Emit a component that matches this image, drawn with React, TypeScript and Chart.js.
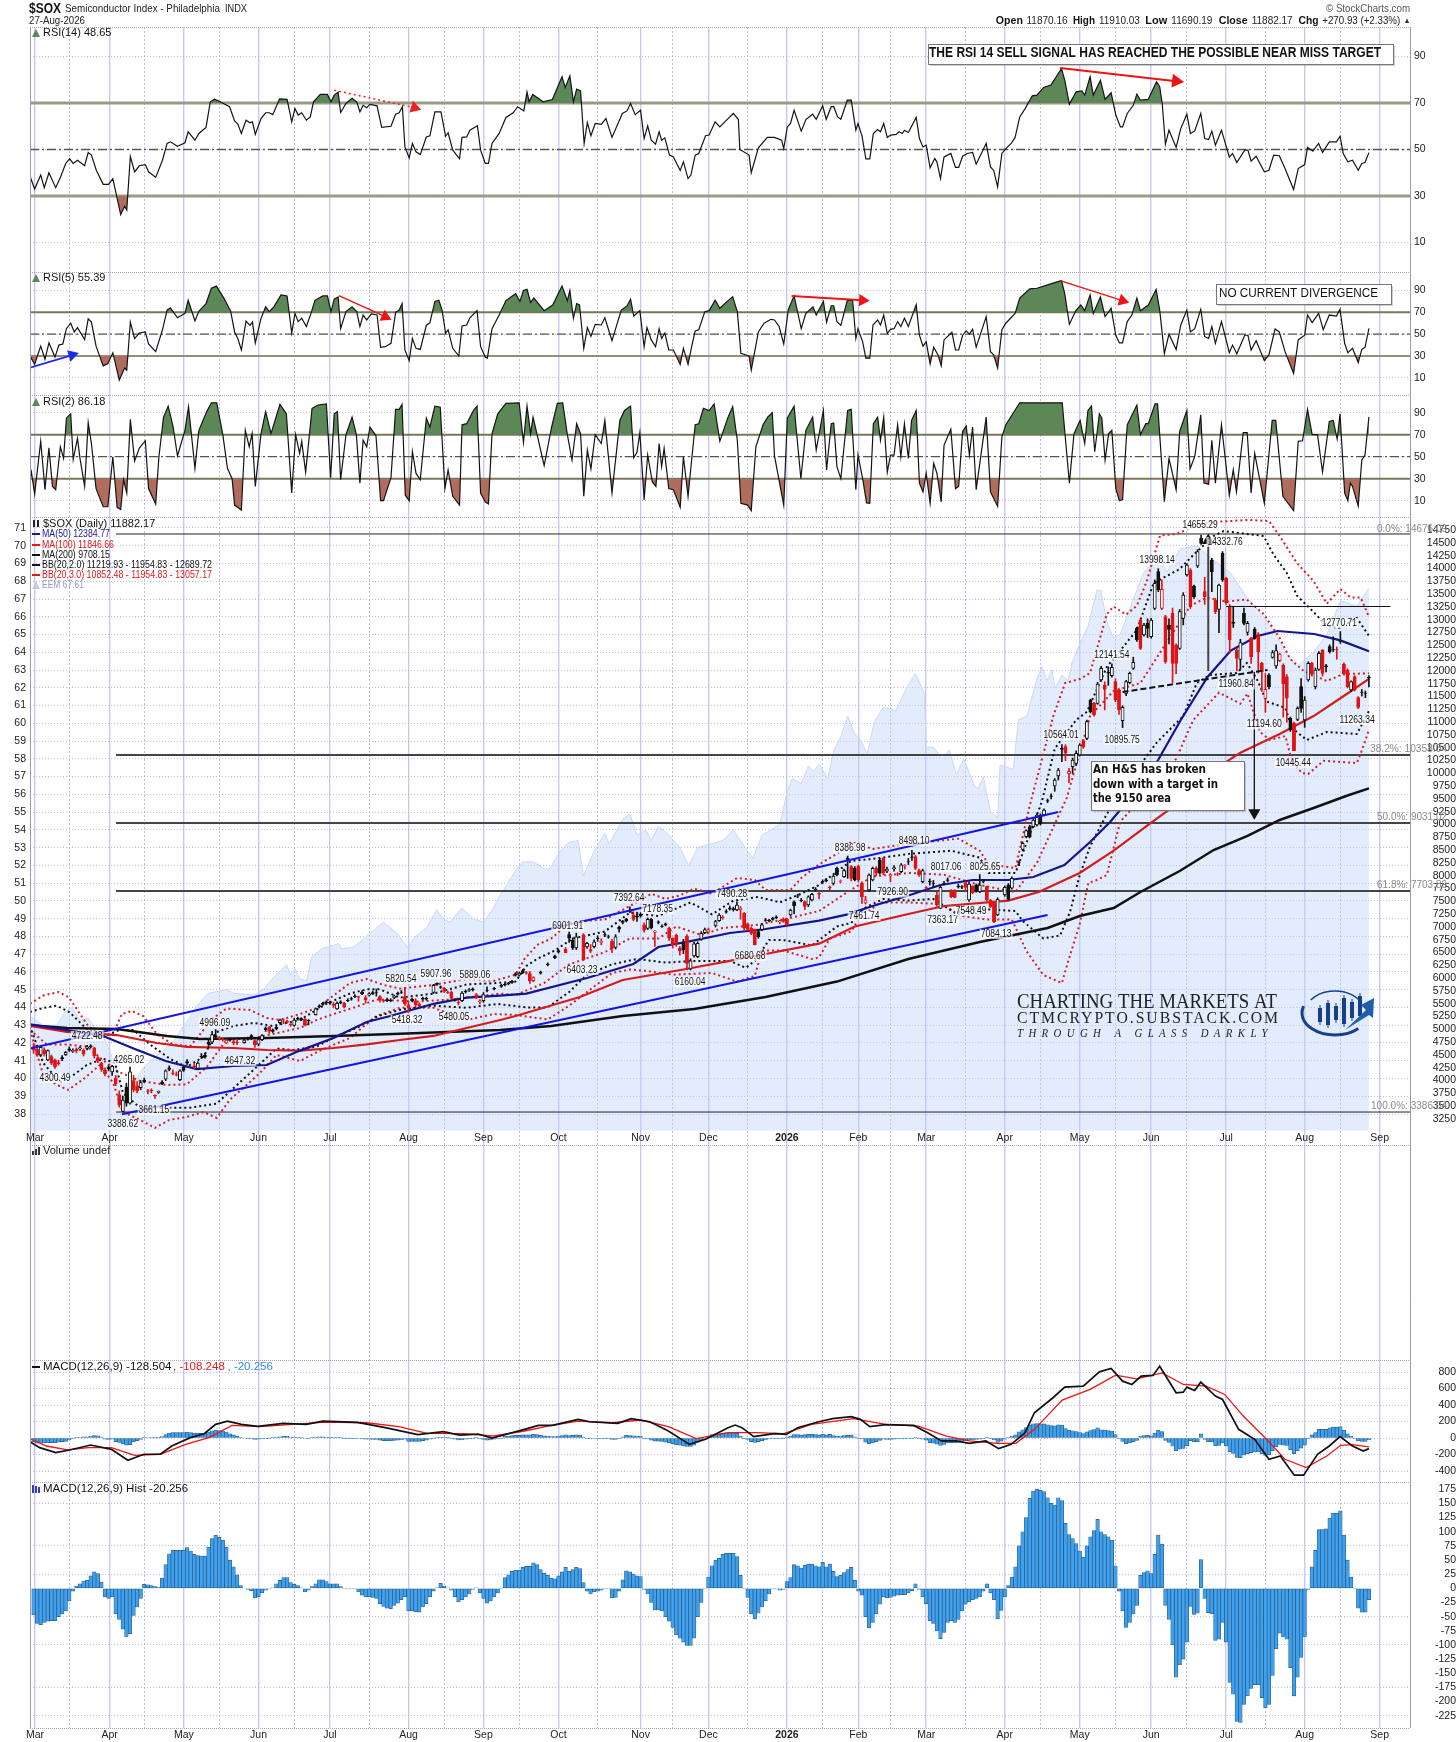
import { useEffect, useRef } from 'react';
import { Chart, registerables } from 'chart.js';
Chart.register(...registerables);

const monthPos = [1.4, 22.3, 43.1, 64, 84, 106, 127, 148, 171, 190, 212, 232, 251, 273, 294, 314, 335, 357, 378];
const monthLabels = ['Mar', 'Apr', 'May', 'Jun', 'Jul', 'Aug', 'Sep', 'Oct', 'Nov', 'Dec', '2026', 'Feb', 'Mar', 'Apr', 'May', 'Jun', 'Jul', 'Aug', 'Sep'];
const midMonthPos = [11, 32, 53, 74, 95, 116, 137, 159, 180, 201, 222, 241, 262, 283, 304, 324, 346, 367];

const rsiTicks = [90, 70, 50, 30, 10];
const priceTicks = [14750, 14500, 14250, 14000, 13750, 13500, 13250, 13000, 12750, 12500, 12250, 12000, 11750, 11500, 11250, 11000, 10750, 10500, 10250, 10000, 9750, 9500, 9250, 9000, 8750, 8500, 8250, 8000, 7750, 7500, 7250, 7000, 6750, 6500, 6250, 6000, 5750, 5500, 5250, 5000, 4750, 4500, 4250, 4000, 3750, 3500, 3250];
const eemTicks = [71, 70, 69, 68, 67, 66, 65, 64, 63, 62, 61, 60, 59, 58, 57, 56, 55, 54, 53, 52, 51, 50, 49, 48, 47, 46, 45, 44, 43, 42, 41, 40, 39, 38];
const macdTicks = [800, 600, 400, 200, 0, -200, -400];
const histTicks = [175, 150, 125, 100, 75, 50, 25, 0, -25, -50, -75, -100, -125, -150, -175, -200, -225];
const histGridValues = [150, 75, 25, -50, -100, -175, -225];

const rsi14 = [[0,38.5],[1.3,33],[3,39],[4,33.6],[5.3,40],[7.2,33.6],[8.5,38],[10,44],[11.1,46],[12.1,44],[13.3,45.4],[15.3,43],[16.3,48.7],[17.2,47.6],[18.6,41],[20.5,35],[22,35],[23.2,37.5],[25.4,22],[26.5,25.6],[27.1,24],[28.1,47],[29.3,40.4],[30.6,43],[32.3,43.5],[33.2,40.4],[35.2,38],[37.1,45.4],[38.4,52.6],[39.3,53.3],[41.3,51.4],[43.4,52.9],[44.3,57.6],[46.2,54],[47.3,56.9],[49.3,59.5],[50.5,70.5],[51.7,71.6],[52.7,71],[55.9,68.4],[57.3,62.3],[58.2,60.9],[59.2,56.9],[60.5,62.6],[61.6,61.5],[62.3,61.9],[63.1,56.5],[64.7,63.3],[66,65.8],[67,65.8],[68,65],[69.9,71.8],[72,71.6],[73.3,61.9],[74.2,67.6],[75.1,64.8],[76.1,65.8],[77.4,62.6],[78.5,64],[79.4,70.5],[81.3,73.7],[83.3,73.7],[84.3,70.5],[85.2,73.4],[86.3,74.7],[87,65.9],[88.5,69.8],[90.2,72],[91.5,70.5],[92.4,66.2],[93.3,69],[94.3,68],[95.2,69.4],[97.2,68.8],[98.5,59.5],[101.1,60],[102.4,65.2],[103.4,65.8],[104.3,68.4],[105,51.1],[106.2,46.4],[107.1,52.6],[108.1,49],[109.3,47.8],[111,55.4],[112,55.9],[113.4,66.2],[115.1,66.2],[116.4,55.7],[117.1,57.2],[118.4,49.7],[120.3,46],[121,55.2],[122.3,55.4],[123.2,58.3],[125.3,60.2],[126.2,49.7],[127.5,44],[128.4,44],[129.4,52.6],[131.4,56.9],[133.3,63.8],[135.3,65.8],[136.6,68.4],[138.3,66.6],[139.2,74.8],[139.8,70.5],[140.8,73.7],[143.7,70.5],[146.3,71.5],[149,81.3],[149.9,76.7],[151.2,81.7],[152.2,70.5],[153.1,76],[154.2,75.2],[155.2,52.6],[156.1,61.6],[157.1,55.9],[158.3,61.2],[160,60.8],[161.3,63.3],[163,55.2],[165.9,65.5],[167.2,66.6],[168.2,69.8],[169.5,65],[171,66.9],[172,54.7],[173,60.2],[174,54],[175.2,52.3],[176.2,57.6],[176.9,54],[177.8,55],[179.1,47.6],[180.2,46.8],[182.1,41],[183,44.7],[184.3,37.5],[185.1,39],[186.3,47.6],[187.3,48.3],[189.2,55.9],[190.2,56.2],[191.9,61.9],[193.2,59.7],[195.5,63.3],[197,65.5],[198.4,62.9],[198.8,50],[201.4,47.6],[202,40],[204,50.7],[206.5,55.2],[208.5,55.2],[210.5,54],[211.1,50.4],[212.1,59.7],[213,61.2],[214,66.9],[216,57.9],[217.3,62.9],[219.2,65.2],[220.2,63],[222,68.8],[223,63],[224.4,68.4],[225.1,68.4],[226.2,64],[227.1,63],[228.9,71.2],[230,71.2],[231.3,58.3],[231.9,61.2],[233,56],[234.1,46],[235.2,46],[236.2,56.9],[237.4,58.6],[238.2,57.6],[239.1,61.2],[240.1,55.2],[241,56.2],[242.6,56.5],[243.4,57.6],[244.3,56.9],[244.9,58.3],[246,57.3],[248.2,63.8],[249.1,54.7],[250.1,51.1],[251,51.9],[252.1,42.1],[253.4,46.1],[254,44.7],[255,37.5],[256,46.8],[257.9,48.3],[259.2,42.3],[260.1,42.3],[261.2,47.1],[262.5,48.3],[264,48.7],[265,43.7],[267.8,52.6],[269,42.5],[269.9,41],[271,33.9],[272.2,48.3],[273.3,50.4],[274.8,52.6],[275.9,55.2],[277.2,64],[278.7,67.6],[280.7,73.1],[282,73.4],[283.9,76.7],[285.9,77.7],[288.9,84.8],[289.8,79.8],[291.1,69.5],[293,74.8],[294.6,75.2],[295.4,73.4],[296.9,81.3],[297.8,73.4],[299.8,79.8],[301.1,71.6],[302.8,74.4],[304.1,64.8],[305.4,59.7],[306,59.7],[307.3,65.5],[309,69],[310,73.8],[311,71.2],[313.2,71.6],[315.5,79.1],[316.4,77],[317.1,69.8],[318,52.3],[319,58.3],[321,50.9],[322.3,59],[324,65.2],[325,56.9],[326.2,58],[327.9,65.5],[329,54.7],[330.1,54.3],[331,57.9],[332,51.9],[333.7,58.3],[335.9,46.8],[336.8,48.3],[338,44.4],[340.2,49.7],[341.1,49.7],[342,45],[343.4,47.1],[345.7,40.4],[347,41.1],[348.3,47.6],[349.9,47.3],[351.5,41.8],[353.9,32.8],[355.2,41.8],[357,43.5],[357.8,50.9],[359.3,49.3],[360.9,52.6],[362,48.7],[363.9,53.3],[365.9,53.3],[366.9,55.7],[367.8,48.3],[369.1,44.7],[370.4,45.4],[372,41.1],[373,44],[373.9,44.4],[375,48.65]];

const rsi5 = [[0,30],[1.3,22.4],[3,39],[4.2,27],[5.3,42],[7,29],[8.1,40],[9.2,41],[10.2,55],[11.4,60],[12.4,52],[13.3,56],[15.3,45],[16.3,64],[17.2,61],[18.5,39],[20.5,21],[21.8,23],[23.2,33],[25,8],[26.5,19],[27.1,17],[28.1,61],[29.3,46],[30.6,51],[32.3,52],[33.2,41],[35.2,34],[37.1,54],[38.4,72],[39.3,74],[41.3,65],[43.4,69],[44.3,81],[46.2,62],[47.3,71],[49.3,78],[50.8,92],[52.2,94],[54.3,83],[56.2,71],[57.3,52],[58.2,46],[59.2,35.5],[60.5,62],[61.6,58],[62.3,61],[63.1,42],[64.7,64.5],[66,75],[67,70.6],[68.3,75],[70.3,86],[72,85],[73.3,51],[74.2,69],[75.1,61.5],[76.1,64.5],[77.4,57],[78.7,69],[79.8,81],[82,85],[83.3,85],[84.3,70.6],[85.2,82],[86.3,84],[87,55],[88.5,70.6],[90.2,75],[91.5,70.6],[92.4,57],[93.3,67.5],[94.3,63],[95.6,68.5],[97.2,67.5],[98.2,38],[99.5,38.5],[101.1,41.6],[102.4,70],[103.4,72],[104.2,78],[105,35.5],[106.2,25.7],[107.1,46],[108.1,37],[109.3,36],[111,58],[112,60.5],[113.4,80],[114.5,81],[115.4,72],[116.4,51],[117.1,54],[118.4,37],[120.1,30],[121,57.5],[122.3,58.4],[123.2,65],[125.2,71.5],[126.2,38.5],[127.5,29],[128.1,28],[129.4,55],[131.4,67.5],[133.3,80.7],[136,87],[137.2,80],[138.2,90],[139.2,91],[140.2,79],[141.1,83],[144,71.5],[146.4,76.7],[149,94],[150.5,80.7],[151.2,90],[152.2,64.5],[153.1,78],[153.9,76.7],[155.1,37],[156.1,56],[157.1,48],[158.3,59],[160,58.4],[161,65],[163,44],[165.6,72],[167.2,75.8],[168.2,82],[169.1,66.6],[170.8,71.5],[172,38.5],[172.8,56],[174,44.7],[175.2,38.5],[176.2,55],[176.9,46],[177.8,51],[178.9,35.5],[180.2,35.5],[182.1,22.4],[183,37],[184.3,22.4],[185.4,40],[186.3,53],[187.3,54],[189,70.6],[190.2,71.5],[191.9,81],[193.2,73.7],[195.5,80.7],[196.8,84.3],[198.1,70.6],[199.1,32.4],[201.4,30],[202,17],[204,52],[205.6,60],[207.5,63.6],[208.5,63],[209.8,57],[211.1,41],[212.4,72.7],[214,85],[216,55],[217.3,69],[219.3,75],[220.2,67.5],[222.2,80],[223.1,61],[224.4,76],[225.1,76],[226,61.5],[227.1,58],[228.9,81],[230.4,81],[231.3,46],[231.9,55],[233.2,43],[234.1,28],[235.2,28],[236.1,58.4],[237.4,63],[238.2,58.4],[239.1,67.5],[240.1,50.8],[241,54.4],[242,55],[243,61.5],[243.9,57],[244.9,64.5],[246,57],[248.2,77],[249.1,49],[250.1,39],[251,43],[252.1,22.7],[253.1,38],[254.3,31],[255.2,21],[256,44.7],[258.2,51.7],[259.2,35.5],[260.1,35.5],[261.2,49],[262.2,53],[263.1,50],[264,54.4],[265,38],[267.8,66],[269,34],[269.9,31],[271,19],[272.2,54],[273.3,60],[275.9,69],[277.2,83],[280,91.4],[282,92],[285.9,96],[288.9,99],[289.8,87],[291.1,59],[293,72],[294.3,76.7],[295.4,71.5],[296.9,86],[297.8,69],[299.8,84],[301.1,66],[302.8,73.7],[304.1,49],[305.1,42],[306,42],[307.3,61.5],[308.6,67.5],[310,83],[311,71.5],[313.2,76.7],[315.4,91],[316.4,72],[317.7,32.4],[319,50],[321,36],[322.3,58.4],[324,72],[325,52],[326.2,55],[327.9,72.7],[329,47.7],[330.1,46],[331,57],[332,41.6],[333.7,61.5],[335.9,33],[336.8,40],[338,32],[340.2,49],[341.1,49],[342,35.5],[343.4,44],[345.7,25.7],[347,31],[348.7,54.7],[349.9,52],[351.5,34],[353.9,14],[355.2,44.7],[357,49],[357.8,67.5],[359.1,60.5],[360.9,69],[362.2,54],[363.9,67.5],[365.9,66.6],[366.9,72.7],[368.2,41.6],[369.1,33],[370.4,37],[372,24],[373,36],[373.9,38],[375,55.39]];

const rsi2 = [[0,29],[0.4,36],[1.3,16],[3,64],[4.2,20],[5.3,58],[6.3,23],[7.2,20],[8.5,59],[9.4,48.5],[10.2,85],[11.4,89],[12.1,47.6],[13.3,66.7],[14,48.5],[15.3,23],[16.3,81],[17.2,62],[18.5,21],[20.5,4.5],[21.8,4.5],[23.2,50],[24.4,4],[25.4,2],[26.2,29],[27.1,17],[28.1,84],[29.3,46],[30.6,57.6],[32.3,64.5],[33.2,21],[35.2,7],[36.1,50],[37.4,86],[38.7,96],[40.1,77],[41.3,50.6],[43.4,74],[44.4,95.5],[46.2,39.4],[47.3,74],[49.5,91],[50.8,99],[52.3,99],[54,70],[55.3,39.4],[56.6,30],[57.3,6],[59.2,1.5],[60.3,74],[61.4,59],[62.2,71],[63.1,23],[64.7,71],[66,91],[67.5,71],[70,97.5],[71.8,89],[73.3,17],[74.4,70],[75.5,53],[76.1,64],[77.2,36],[79,94],[80.7,97],[83,98],[84.2,31],[85.2,89],[86.1,91],[87,29],[88.5,70],[90.2,86],[91.4,70],[92.4,26],[93.3,65],[94.3,59],[95.2,77],[96.9,69],[98.2,10],[99,10],[101.1,31],[102.4,93],[103.4,93],[104.2,97.6],[105.1,15],[106.2,10],[107.1,54.5],[108.1,35],[109.3,29],[111,85],[112,77],[113.4,96],[114.9,95],[116.2,21],[117.1,38],[118.4,14],[120.3,6],[121,79],[122.3,80],[124.2,92],[125.2,96],[126.2,17],[127.5,9],[128.4,7],[129.4,71],[131,89],[133.3,98.5],[137,99],[138.2,63],[139.2,96],[140.2,71],[140.9,86],[144,42],[146.1,77],[147.7,98.5],[149.2,99],[150.5,70],[151.8,47],[153.1,80],[154.2,71],[155.1,14],[156.1,56],[157.1,39],[158.3,70],[160,62],[161,83],[163,17],[165.2,83],[166.5,92],[168.2,96],[169.1,49],[170,54],[170.8,72],[172,11],[173,51.5],[174.3,27],[175.3,23],[176.2,62],[176.9,41],[177.6,57.6],[178.9,21],[180.2,20],[182.1,4],[183,50],[184.3,14],[185.4,50],[186.3,79],[187.3,80],[188.6,94],[190.2,92],[191.6,98],[193.2,64],[195.5,86],[196.8,95.5],[198.1,65],[199.1,7.6],[201,6],[202,1],[203.3,59],[205.3,79],[206.6,86],[207.9,90],[208.5,51],[211.1,6],[212.1,85],[214,96],[215.9,30],[217.3,74],[219.2,86],[220.2,56],[222.2,92],[223.1,38],[224.4,80],[225.1,80.6],[226,41],[227.1,30],[229,92],[230,93],[231.3,20],[231.9,51.5],[233.2,30],[234.3,8],[235.2,7.6],[236.2,80],[237.4,86],[238.2,65],[239.1,86],[240.1,36],[241,51.5],[242,51.5],[243,79],[243.9,50],[244.9,80],[246,48.5],[246.9,83],[248.2,92],[249.1,26],[250.1,18],[251,35],[252.1,7.6],[253.1,44],[254,35],[255.2,9],[256,60.6],[257.9,75],[259.2,21],[260.1,23],[261.2,73],[262.2,78],[263.1,51.5],[264,77],[265,20],[267.8,86],[269,18],[271,5],[272.2,68],[273.3,79],[277.2,99],[289.1,99],[291.1,26],[292.4,71],[294.1,83],[295.4,62],[296.3,92],[297.3,96],[298.2,54.5],[299.5,89],[300.2,85],[301.1,47],[302.1,71],[303,74],[304.1,21],[305.1,10],[306,11],[307.3,79],[310,97],[311,70],[312.5,80],[313.2,80],[315.1,98],[315.8,98],[317.7,9],[319,48.5],[321,20],[322,73],[324,92],[324.9,39],[326.2,50],[327.9,88],[328.8,26],[330.1,25],[331,65],[332,26],[333.7,79],[335.9,15],[337,38],[337.9,18],[339.8,72],[340.9,72],[342,17],[343,53],[345.7,7.6],[347.9,83],[348.9,83],[350.9,14],[353.9,1],[355.2,64],[356.4,64.5],[357.8,93],[359.1,70],[360.6,70],[362,36],[363.9,82],[365,83],[366.1,66],[366.9,89],[368.2,17],[369.1,10],[369.8,26],[370.4,23],[372,5],[373,47],[373.9,51.5],[375,86.18]];

const eem = [[0,43.5],[3.7,43],[7.5,43],[9.8,43.75],[11.7,44],[14,43.3],[16.3,43.4],[18.2,42.8],[20.5,42.4],[24.3,40.6],[26.3,38.6],[29,39.7],[31.7,40.6],[35.5,41.3],[40,42],[43,43],[44.4,43.3],[46.7,44.1],[50,44.8],[52.3,44.9],[55.1,45],[57,44.8],[62.6,44.7],[65.4,45],[68.2,45.7],[71.9,46.4],[73,45.8],[74.2,46.2],[75.6,45.6],[77.5,45.5],[78.9,46.85],[81.7,47.3],[85,47.5],[86.4,47.6],[87.3,47.3],[90.6,47.4],[94.3,48],[97.1,48.5],[99,48.8],[102.7,48.2],[106,47.3],[107.4,47.9],[111.1,48.5],[113.9,49.5],[115.8,49],[117.6,48.8],[120.9,49.6],[124.2,49],[127,48.8],[129.8,49.6],[131,50.1],[136,51.7],[138,52.2],[141,52.2],[144,51.8],[145.5,51.8],[148.5,52.8],[151,53.3],[153.5,53.4],[155,51.4],[158,52.8],[161,53.8],[162.2,53.2],[166,54.6],[168,54.9],[170,53.7],[172.5,54],[174,53.4],[176,54.2],[179,53.7],[182,53],[184.5,52],[187,53],[194,53.4],[197,54],[201,52.8],[202.5,52.4],[205,53.7],[210,54.3],[212,56.1],[213.5,56.9],[216,56.6],[218,57.6],[219.5,57.3],[221,57.7],[223.5,56.9],[225,58.4],[227,59.2],[229,60.4],[231,59.4],[232.5,59.1],[234.5,58.3],[236.5,60.1],[239,60.9],[242.5,60.7],[245.5,62],[248,62.8],[250.5,61.7],[251,58.65],[253,58.65],[255.5,58],[257.5,58.5],[259.5,57.1],[261.5,58],[264.5,56.5],[265.5,56.3],[267,57],[269,55],[271,54.7],[271.7,57.65],[275.4,57.4],[276.8,60.2],[279.2,60.4],[282,62.5],[283.4,63.2],[284.8,62.4],[286.2,63],[287.1,62],[289,62.7],[290.8,62.4],[291.8,63.4],[294.1,64.5],[296.4,65.5],[298.8,67.5],[299.9,67.5],[301.6,65.7],[303.5,64.8],[305.3,65],[310,67.5],[311.9,68.5],[316,69.4],[318.4,68.5],[322,69.8],[326.8,70],[331.5,69.2],[336.1,68.5],[340.8,67.1],[345.5,66],[348.3,65.2],[352,63.9],[354.8,63.2],[359.5,64],[363.2,65],[367,66.9],[371.6,66.6],[375,67.61]];

const ma200 = [[0,5080],[10.4,5027],[24.3,5008],[38.4,4872],[47.6,4813],[66.4,4833],[85,4872],[103.6,4917],[131.7,4989],[146,5067],[166,5262],[186,5399],[206,5634],[226,5934],[246,6376],[266,6708],[285,6981],[294,7215],[303.5,7372],[311,7684],[322,8094],[331.5,8504],[341,8778],[350,9090],[359.5,9325],[369,9569],[375,9708]];
const ma100 = [[0,5067],[10.3,4950],[24.3,4890],[35.5,4735],[44,4657],[57,4637],[66.3,4598],[75.6,4586],[85,4637],[94.3,4706],[103.6,4793],[113,4872],[122.3,5028],[131.7,5184],[136,5262],[154,5634],[166,5965],[183,6170],[196,6337],[206,6473],[221,6675],[231,7010],[246,7254],[256,7410],[274,7516],[282.5,7684],[294,8055],[303.5,8493],[312.8,8973],[319.3,9305],[326.8,9852],[339,10405],[350,10770],[359.5,11120],[369,11560],[375,11846]];
const ma50 = [[0,5100],[10,4990],[20.5,4870],[29,4626],[38,4383],[46.7,4225],[57,4285],[66.3,4305],[75.6,4586],[85,4833],[94.3,5145],[100.9,5262],[113,5500],[122.3,5620],[131.7,5661],[139,5700],[156,6005],[169,6278],[176,6610],[184,6708],[196,6883],[206,6961],[221,7125],[229,7246],[236,7410],[246,7615],[255,7821],[264,7918],[274,7918],[281,7977],[289.7,8211],[296.9,8660],[302.5,9051],[305.8,9325],[315.8,10242],[322.3,11043],[329.8,11883],[336.3,12398],[343.8,12684],[349.4,12781],[359.7,12723],[367,12598],[375,12384]];
const bb3Upper = [[0,5500],[3.7,5661],[8,5731],[11,5620],[14,5300],[16.3,5067],[19.6,4870],[23.3,4910],[25.7,5300],[28.5,5360],[31.7,5262],[35.5,4910],[40,4706],[44.8,4667],[48.6,4989],[51.4,5223],[55,5407],[61.6,5380],[66.3,5223],[70,5184],[75.6,5300],[80.3,5418],[85,5661],[89.6,5906],[94.3,5985],[99,5868],[103.6,5797],[113,5868],[122.3,5985],[129.8,5946],[136,6069],[138.5,6376],[142,6649],[146,6775],[151,7080],[155,7118],[161,7146],[168,7410],[174,7650],[178,7548],[182,7616],[186,7750],[191,7650],[198,7957],[203,7918],[206,7723],[213,7723],[216,7957],[221,8222],[226,8430],[230,8660],[236,8524],[246,8625],[260,8725],[266,8490],[268.5,8222],[276,8153],[280,9370],[283,10164],[286.6,11120],[289.9,11765],[294,11844],[296.9,11961],[301.6,13113],[303.5,13260],[307,13100],[310,13275],[312.8,13758],[316.5,14646],[321,14675],[327.7,14870],[331.5,14910],[341,14950],[347,14930],[350,14637],[354.8,14110],[359.5,13757],[363.2,13315],[367,13600],[369.9,13435],[372.7,13435],[375,13057]];
const bb3Lower = [[0,4989],[3.7,4110],[7.5,3915],[10.7,3818],[15,4032],[19.6,4305],[23.3,3954],[26,3388],[30.8,3232],[35,3075],[39,3232],[43.9,3290],[48.6,3388],[52.3,3271],[56,3630],[60.7,3915],[64.4,4149],[69,4500],[75.6,4383],[81.2,4586],[89.6,4833],[97,5262],[103.6,5422],[113,5422],[122.3,5184],[129.8,5300],[136,5282],[145,5194],[151,5463],[156,5731],[163,6102],[168,6170],[173,6141],[180,6069],[191,6102],[198,5934],[203,6043],[205,6540],[211,6540],[219,6376],[221,6405],[224,6775],[230,6911],[232,7146],[238,7480],[246,7480],[255,7449],[261,7215],[268,7146],[275,7146],[279,6540],[283.8,6063],[289,5906],[290.8,6337],[294,7058],[296.4,7860],[298.8,7918],[301.6,8016],[305.3,9051],[321,10285],[325.8,11043],[333,11578],[339,11362],[341,11560],[344.5,10808],[347.3,10652],[351.6,10730],[353.4,10246],[356.2,10008],[358,9989],[362.3,10246],[371.6,10203],[373,10445],[375,10852]];
const bb2Upper = [[0,5340],[3.7,5420],[7.5,5463],[11,5340],[15,5067],[19.6,4833],[25,4989],[29,4989],[33.6,4706],[39.2,4427],[43.9,4266],[48.6,4467],[52.3,4950],[57,5067],[62.6,5126],[68,5067],[75.6,5184],[83,5500],[89.6,5700],[94.3,5782],[98,5782],[103.6,5620],[113,5700],[122.3,5877],[130.7,5906],[136,5934],[139,6238],[142,6376],[147,6540],[152,6775],[161,6911],[168,7280],[176,7215],[185,7480],[191,7246],[197,7516],[204,7586],[210,7480],[216,7650],[221,7820],[230,8290],[236,8329],[246,8426],[258,8490],[266,8355],[268.5,8055],[276,8055],[279,8625],[283.4,9450],[287,10485],[293,11043],[296,11203],[301.6,12078],[310,12800],[314.7,13718],[322,13992],[325.9,14271],[331.5,14637],[334.3,14734],[345.5,14637],[348.3,14271],[352,13914],[354.8,13475],[359.5,13152],[363.2,12879],[366.5,12840],[371.6,13035],[375,12689]];
const bb2Lower = [[0,5067],[3.7,4345],[8.4,3965],[12.6,4130],[15.9,4305],[20.5,4427],[23.8,4345],[26.1,3750],[30.8,3470],[38.3,3470],[44.8,3470],[52.3,3550],[56,3790],[63.5,4266],[69,4626],[73.8,4598],[80.3,4667],[85.9,4870],[91.5,5028],[97.6,5262],[103.6,5383],[113,5463],[122.3,5422],[131,5497],[139,5430],[145,5430],[151,5731],[156,6069],[163,6270],[170,6376],[178,6305],[186,6337],[196,6337],[200.5,6203],[203,6337],[207,6746],[211,6746],[219,6641],[226,7010],[230,7080],[234,7381],[239,7548],[246,7516],[253,7548],[259,7280],[266,7352],[276,7313],[278,7118],[283.8,6777],[288.5,6834],[291.3,7297],[294,8016],[296.9,8573],[301.6,9208],[311.8,10246],[315.6,10605],[323,11120],[326.8,11765],[330.5,11922],[338,11961],[340.8,12156],[343.6,11844],[346.4,11402],[351.6,11281],[353.4,10888],[357.6,10652],[363.2,10808],[371.6,10769],[375,11219]];
const bbMiddle = [[0,4989],[4.7,4706],[10.3,4706],[15.9,4667],[20,4427],[24.3,4188],[30.8,3993],[38.3,3915],[43.9,3925],[49.5,4266],[55,4793],[62.6,4833],[68,4910],[75.6,5028],[80.3,5184],[85,5300],[90.6,5422],[97,5582],[108.3,5543],[117.6,5582],[131.7,5700],[136,5672],[144,5906],[151,6270],[161,6510],[168,6775],[176,6775],[181,7010],[188,6844],[194,6980],[204,7043],[211,7146],[221,7313],[229,7684],[236,7987],[246,8055],[256,8020],[266,7821],[276,7684],[282,8250],[290.4,9528],[296.9,11120],[303.5,11610],[311,11765],[318.4,12566],[325,13275],[329.6,13435],[335.2,13355],[340.8,13395],[345.5,13113],[350,12645],[352.9,12240],[356.7,12000],[363.2,11805],[367.9,11941],[375,11954]];

const channelUpper = [[0,4625],[288,9246]];
const channelLower = [[25.8,3344],[285,7235]];
const necklineHS = [[306,11590],[346.6,12020]];
const resistance = [[335,13260],[381,13260]];
const fibLevels = [14676, 10358, 9031, 7703, 3386];
const fibStart = 24.1;
const fibEnd = 386.5;

// idx, open, high, low, close, style: r red, k black, h hollow black, R hollow red
const candles: [number, number, number, number, number, string][] = [
[1,4663,4728,4533,4598,'r'],[2,4598,4660,4470,4500,'r'],[3,4500,4690,4470,4650,'h'],[4,4600,4640,4480,4520,'r'],[5,4403,4600,4390,4585,'h'],[6,4468,4500,4310,4338,'r'],[7,4403,4420,4240,4273,'r'],[8,4350,4400,4300,4330,'r'],[9,4430,4490,4390,4450,'k'],[10,4500,4570,4490,4550,'h'],[11,4590,4660,4570,4620,'k'],[12,4570,4620,4550,4590,'h'],[13,4610,4640,4540,4580,'r'],[14,4620,4660,4590,4640,'h'],[15,4590,4620,4480,4520,'r'],[16,4630,4690,4600,4660,'h'],[17,4660,4700,4640,4680,'k'],[18,4640,4650,4440,4480,'r'],[19,4450,4470,4350,4380,'r'],[20,4340,4360,4180,4220,'r'],[21,4210,4250,4090,4130,'r'],[22,4230,4290,4190,4260,'k'],[23,4170,4300,4100,4280,'h'],[24,4050,4100,3900,3940,'r'],[25,3720,3800,3480,3520,'r'],[26,3400,3700,3389,3620,'h'],[27,3560,3950,3500,3880,'k'],[28,3560,4265,3540,4170,'h'],[29,4000,4100,3780,3820,'r'],[30,3900,3980,3760,3800,'r'],[31,3860,4000,3820,3960,'h'],[32,3980,4050,3960,4010,'k'],[33,3800,3830,3740,3790,'r'],[34,3810,3840,3760,3800,'r'],[35,3710,3720,3650,3700,'r'],[36,3770,3800,3750,3790,'h'],[37,3940,4000,3920,3970,'k'],[38,4030,4210,4000,4190,'h'],[39,4220,4290,4190,4250,'k'],[40,4150,4210,4110,4140,'r'],[41,4120,4170,4090,4110,'r'],[42,4020,4210,4000,4190,'h'],[43,4200,4280,4180,4260,'k'],[44,4340,4410,4310,4370,'k'],[46,4290,4330,4230,4260,'r'],[47,4240,4370,4220,4340,'h'],[48,4460,4530,4430,4480,'k'],[49,4460,4530,4440,4500,'k'],[50,4710,4800,4640,4750,'k'],[51,4750,4960,4720,4900,'h'],[52,4850,4996,4830,4880,'k'],[53,4830,4860,4790,4810,'r'],[54,4810,4840,4770,4800,'r'],[55,4730,4800,4720,4790,'R'],[56,4790,4830,4770,4810,'k'],[57,4760,4790,4700,4740,'r'],[58,4750,4790,4700,4740,'r'],[60,4740,4820,4730,4790,'h'],[61,4810,4850,4790,4830,'k'],[62,4820,4900,4800,4880,'k'],[63,4780,4800,4650,4700,'r'],[64,4710,4830,4680,4800,'h'],[65,4800,4900,4780,4880,'h'],[66,4990,5050,4960,5020,'k'],[67,5040,5060,4920,4960,'r'],[68,4960,5010,4940,4990,'k'],[69,5010,5060,4990,5040,'k'],[70,5130,5200,5100,5180,'h'],[71,5150,5210,5110,5140,'r'],[72,5160,5180,5120,5140,'r'],[73,5100,5140,5060,5090,'r'],[74,5080,5220,5060,5180,'h'],[75,5200,5240,5180,5220,'k'],[76,5190,5230,5170,5210,'k'],[77,5200,5220,5070,5090,'r'],[78,5170,5190,5090,5180,'k'],[80,5290,5410,5280,5400,'h'],[81,5440,5480,5420,5450,'k'],[82,5490,5530,5470,5510,'k'],[83,5520,5560,5500,5540,'k'],[84,5510,5550,5490,5530,'k'],[85,5490,5530,5420,5470,'r'],[86,5400,5540,5390,5510,'h'],[87,5520,5560,5500,5540,'k'],[88,5510,5530,5420,5440,'r'],[89,5560,5600,5540,5570,'k'],[90,5590,5630,5570,5600,'k'],[91,5640,5680,5620,5650,'k'],[92,5640,5650,5550,5630,'r'],[93,5700,5760,5680,5730,'k'],[94,5620,5660,5510,5580,'r'],[95,5670,5720,5650,5700,'h'],[96,5720,5750,5680,5700,'k'],[97,5720,5790,5650,5730,'k'],[98,5640,5660,5530,5570,'r'],[99,5570,5590,5530,5550,'r'],[100,5580,5610,5540,5560,'k'],[101,5560,5600,5540,5570,'k'],[102,5620,5670,5600,5650,'h'],[103,5690,5730,5670,5710,'k'],[104,5720,5760,5700,5730,'k'],[105,5640,5820,5470,5500,'r'],[106,5480,5550,5330,5420,'r'],[107,5560,5610,5540,5590,'k'],[108,5560,5600,5440,5480,'r'],[109,5500,5520,5440,5460,'r'],[110,5590,5630,5570,5610,'k'],[111,5590,5630,5570,5610,'k'],[113,5720,5880,5700,5860,'h'],[114,5880,5908,5860,5900,'k'],[115,5820,5850,5800,5830,'k'],[116,5800,5820,5720,5740,'r'],[117,5730,5750,5700,5720,'r'],[118,5730,5750,5590,5610,'r'],[119,5570,5600,5550,5580,'k'],[120,5530,5560,5480,5520,'r'],[121,5560,5740,5540,5710,'h'],[122,5730,5770,5710,5750,'k'],[123,5760,5800,5740,5780,'h'],[124,5770,5810,5750,5790,'k'],[125,5680,5700,5600,5620,'r'],[126,5560,5580,5500,5540,'R'],[127,5560,5720,5530,5680,'h'],[128,5760,5830,5730,5770,'k'],[130,5790,5820,5770,5800,'k'],[132,5840,5880,5820,5860,'k'],[133,5870,5900,5850,5880,'k'],[134,5890,5920,5870,5900,'k'],[135,5920,5960,5900,5940,'k'],[136,6060,6110,6040,6090,'k'],[137,6060,6120,6040,6100,'h'],[138,6110,6170,6090,6150,'k'],[139,6110,6130,6080,6100,'r'],[140,6090,6130,5900,5950,'r'],[141,5950,6030,5930,6010,'R'],
[143,6100,6140,6080,6120,'k'],[145,6260,6300,6240,6280,'k'],[147,6400,6450,6380,6430,'k'],[148,6510,6560,6490,6540,'k'],[150,6565,6600,6500,6500,'r'],[151,6780,6901,6700,6850,'k'],[152,6740,6790,6560,6590,'k'],[153,6590,6880,6560,6810,'h'],[155,6845,6870,6350,6355,'r'],[156,6610,6700,6580,6680,'h'],[157,6560,6660,6500,6530,'r'],[158,6615,6750,6590,6710,'h'],[159,6770,6830,6720,6780,'k'],[160,6720,6770,6650,6700,'R'],[161,6850,6890,6810,6840,'k'],[162,6800,6840,6780,6810,'k'],[163,6720,6760,6500,6580,'r'],[164,6600,6850,6570,6810,'h'],[165,6960,7020,6900,7000,'k'],[166,7090,7130,7060,7110,'k'],[167,7120,7170,7100,7150,'k'],[168,7300,7392,7280,7320,'k'],[169,7240,7300,7120,7150,'r'],[170,7220,7290,7110,7190,'k'],[171,7250,7280,7190,7220,'k'],[172,7040,7080,6900,6940,'r'],[173,6970,7178,6950,7150,'h'],[174,7150,7170,6960,6980,'k'],[175,6920,6930,6620,6900,'R'],[176,7090,7120,7060,7100,'k'],[177,7010,7040,6990,7020,'k'],[178,7040,7080,7020,7060,'k'],[179,6980,7000,6740,6780,'r'],[180,6780,6790,6590,6650,'r'],[181,6840,6860,6620,6680,'r'],[182,6590,6620,6450,6540,'r'],[183,6680,6760,6480,6550,'k'],[184,6820,6850,6160,6290,'r'],[185,6180,6380,6160,6340,'h'],[186,6435,6700,6410,6670,'h'],[187,6420,6710,6400,6680,'h'],[188,6760,6910,6740,6877,'h'],[189,6890,6980,6870,6950,'h'],[190,6950,6980,6880,6900,'R'],[192,7030,7130,7000,7105,'h'],[193,7125,7260,7110,7235,'h'],[194,7190,7220,7150,7180,'r'],[195,7300,7340,7270,7290,'k'],[196,7370,7410,7330,7350,'k'],[197,7340,7390,7310,7360,'k'],[198,7333,7490,7320,7430,'h'],[199,7370,7400,7150,7340,'R'],[200,7268,7280,6950,6975,'r'],[201,7060,7080,6930,6955,'r'],[202,6975,7000,6850,6877,'r'],[203,6955,6960,6650,6650,'r'],[204,6910,6940,6780,6810,'k'],[205,6950,7070,6930,7040,'h'],[206,7130,7170,7110,7140,'k'],[207,7120,7150,7100,7130,'k'],[208,7150,7190,7130,7170,'k'],[209,7180,7220,7160,7200,'k'],[210,7120,7130,7060,7100,'R'],[211,7160,7180,7090,7110,'r'],[212,7150,7170,7020,7040,'r'],[213,7235,7350,7210,7330,'h'],[214,7410,7510,7260,7490,'k'],[215,7600,7640,7570,7610,'k'],[216,7520,7560,7490,7510,'k'],[217,7495,7510,7340,7400,'r'],[218,7430,7610,7400,7590,'h'],[219,7530,7660,7510,7640,'h'],[220,7730,7770,7700,7740,'k'],[221,7660,7670,7550,7640,'r'],[222,7880,7920,7850,7890,'k'],[223,7900,7950,7880,7920,'k'],[224,7780,7800,7720,7770,'r'],[225,7853,8020,7820,7996,'h'],[226,8016,8170,8000,8146,'k'],[227,7900,7920,7860,7890,'R'],[228,7984,8130,7970,8100,'h'],[229,8320,8386,7950,8340,'k'],[230,8179,8200,7900,7951,'r'],[231,8146,8180,7900,7918,'k'],[232,8190,8210,7880,7918,'r'],[233,7853,7880,7461,7593,'r'],[234,7530,7600,7450,7463,'R'],[235,7723,8040,7700,8016,'h'],[236,7918,8170,7900,8146,'h'],[237,8146,8180,8000,8049,'r'],[238,8049,8340,8030,8309,'k'],[239,8342,8360,8020,8049,'r'],[240,8090,8170,8060,8130,'h'],[241,8020,8040,7880,8000,'R'],[242,8140,8200,8090,8160,'h'],[243,8040,8060,8000,8030,'r'],[244,8081,8240,8060,8212,'h'],[245,8200,8220,8130,8190,'R'],[246,8280,8340,8220,8270,'k'],[247,8370,8498,8300,8360,'k'],[248,8374,8400,8120,8146,'r'],[249,8100,8130,7990,8016,'r'],[250,7886,8130,7860,8100,'h'],[251,7770,7790,7740,7760,'r'],[252,7890,7940,7820,7880,'k'],[253,7850,7910,7780,7860,'k'],[254,7625,7700,7400,7430,'r'],[255,7365,7800,7363,7775,'h'],[256,7850,7890,7820,7860,'k'],[257,7920,7960,7880,7910,'k'],[258,7720,7730,7570,7590,'r'],[259,7710,7730,7570,7580,'r'],[260,7800,7840,7760,7790,'k'],[261,7780,7810,7750,7790,'k'],[262,7866,7880,7700,7775,'r'],[263,7528,7870,7500,7840,'h'],[264,7800,7810,7650,7671,'r'],[265,7700,7840,7680,7820,'k'],[266,7690,8025,7670,7820,'h'],[267,7890,7930,7860,7900,'k'],[268,7788,7800,7500,7528,'r'],[269,7528,7540,7380,7398,'r'],[270,7463,7480,7084,7105,'r'],[271,7235,7570,7220,7541,'h'],[273,7626,7800,7600,7775,'h'],[274,7540,7850,7520,7820,'k'],[275,7756,7980,7740,7951,'h'],[277,8250,8290,8200,8260,'k'],[278,8517,8660,8490,8635,'h'],[279,8765,8900,8740,8882,'h'],[280,8765,8990,8740,8960,'k'],[281,8960,9120,8940,9090,'h'],[282,8993,9210,8970,9188,'h'],[283,9012,9210,8990,9188,'k'],[284,9188,9310,9170,9286,'h'],[285,9460,9500,9430,9470,'k'],
[286,9550,9600,9500,9560,'k'],[287,9754,9900,9650,9871,'h'],[288,9950,10100,9870,10067,'h'],[289,10470,10564,10230,10490,'k'],[290,10523,10560,10250,10393,'r'],[291,9990,10100,9820,10040,'R'],[292,10132,10300,10000,10262,'h'],[293,10197,10440,10150,10393,'h'],[294,10360,10580,10340,10555,'h'],[295,10640,10660,10490,10510,'r'],[296,10685,11040,10660,11010,'h'],[297,11205,11450,11180,11434,'k'],[298,11369,11390,11120,11141,'r'],[299,11369,11780,11350,11746,'h'],[300,11825,12090,11800,12052,'h'],[301,11727,11790,11240,11640,'r'],[302,11956,12080,11720,11980,'k'],[303,11909,12141,11880,12072,'h'],[304,11792,11850,11400,11434,'r'],[305,11629,11650,11150,11239,'r'],[306,11030,11320,10895,11291,'h'],[307,11564,11820,11520,11792,'h'],[308,11773,11980,11750,11955,'h'],[309,12052,12270,12030,12170,'h'],[310,12606,12860,12580,12833,'k'],[311,12996,13020,12420,12443,'r'],[312,12703,12930,12680,12899,'h'],[313,12833,13020,12650,12931,'k'],[314,12671,13030,12640,12996,'h'],[315,13224,13780,13200,13712,'h'],[316,13582,13998,13550,13940,'k'],[317,13224,13780,13200,13595,'R'],[318,13061,13090,12150,12182,'r'],[319,12814,13020,12530,12899,'k'],[320,13126,13230,11770,12150,'r'],[321,12508,12530,11950,12150,'r'],[322,12443,13200,12420,13159,'h'],[323,13029,13530,12900,13485,'h'],[324,13875,14100,13850,14070,'h'],[325,13973,14000,13220,13257,'r'],[326,13452,13680,13420,13660,'k'],[327,14051,14370,14020,14331,'h'],[328,14494,14655,14470,14591,'k'],[329,13550,13830,13300,13452,'r'],[331,13940,14200,13550,14168,'k'],[332,13387,13420,13120,13159,'r'],[333,13205,13700,12750,13680,'h'],[334,13777,14332,13750,14298,'k'],[335,13810,13830,13300,13335,'r'],[336,13243,13300,12350,12605,'r'],[337,12930,13250,12850,12950,'k'],[338,12410,12450,12000,12248,'r'],[339,12228,12620,12030,12553,'h'],[340,12931,13230,12900,13126,'k'],[341,12755,12970,12700,12931,'h'],[342,12638,12660,12150,12280,'r'],[343,12638,12850,12620,12814,'k'],[344,12723,12750,11960,12378,'r'],[345,12150,12170,11600,11987,'r'],[346,11466,11950,11194,11642,'R'],[347,11694,11950,11650,11922,'k'],[348,12267,12400,12250,12358,'h'],[349,12098,12510,12050,12397,'h'],[350,12202,12350,12180,12332,'R'],[351,12118,12140,11100,11746,'r'],[352,11890,11930,11000,11470,'r'],[353,11076,11100,10820,10848,'k'],[354,10978,11000,10445,10445,'r'],[355,11056,11300,11030,11271,'h'],[356,11271,11850,11190,11694,'k'],[357,11043,11500,10900,11434,'h'],[358,11824,12180,11800,12150,'h'],[359,12150,12170,11900,11942,'r'],[360,11694,12060,11650,12020,'h'],[361,12033,12380,12010,12345,'h'],[362,12410,12420,11900,11955,'r'],[363,12083,12130,11980,12100,'k'],[364,12378,12510,12350,12475,'k'],[365,12410,12670,12380,12420,'k'],[366,12420,12470,12230,12410,'r'],[367,12580,12770,12540,12570,'k'],[368,12137,12160,11920,11942,'r'],[369,12020,12040,11670,11694,'r'],[370,11629,11810,11600,11792,'h'],[371,11890,11910,11610,11630,'r'],[372,11480,11500,11263,11290,'r'],[373,11580,11640,11510,11590,'k'],[374,11570,11610,11480,11560,'k'],[375,11870,11910,11690,11882,'k']];

const histVals = [-47,-62,-64,-60,-58,-57,-57,-50,-45,-40,-22,-5,4,8,13,14,22,29,26,11,-15,-18,-15,-45,-55,-72,-86,-80,-48,-33,-18,7,6,5,3,2,18,42,61,67,67,67,67,72,66,60,58,57,57,73,88,94,90,85,73,50,38,24,5,0,-2,-4,-17,-15,-8,-3,-1,1,8,14,19,19,10,7,5,1,-6,-3,3,8,15,15,12,8,8,8,3,-1,-1,-1,-1,-6,-12,-15,-15,-16,-18,-27,-32,-35,-36,-30,-26,-20,-15,-40,-40,-41,-42,-33,-27,-15,-5,1,9,4,1,-3,-15,-24,-20,-15,-10,-2,1,-8,-18,-26,-22,-15,-8,-1,19,24,30,32,32,37,39,39,45,42,33,27,23,18,17,22,29,37,30,33,37,35,10,-5,-10,-6,-5,-3,-1,-1,-17,-16,-5,15,31,29,25,22,21,-2,-10,-25,-38,-38,-40,-50,-58,-69,-82,-88,-95,-101,-101,-88,-50,-25,-1,20,40,50,53,60,62,62,62,56,23,-1,-16,-45,-54,-44,-33,-22,-10,-1,-1,-3,-2,12,19,42,40,36,41,43,43,40,38,46,38,43,30,21,23,28,33,37,14,-5,-12,-50,-70,-60,-45,-28,-15,-17,-16,-14,-12,-11,-11,-8,-4,8,-2,-15,-27,-57,-62,-75,-89,-78,-60,-57,-60,-55,-40,-28,-24,-20,-18,-15,-5,8,-8,-20,-54,-39,-15,5,20,38,75,100,125,159,172,175,173,171,160,150,147,160,155,115,95,88,79,66,55,75,91,102,122,100,95,91,85,40,-5,-40,-69,-60,-45,-30,23,28,31,26,60,94,78,-30,-55,-100,-157,-135,-125,-95,-32,-46,-44,51,-18,-43,-45,-92,-90,-60,-95,-166,-187,-235,-237,-205,-190,-177,-170,-170,-193,-211,-205,-154,-107,-79,-86,-90,-140,-190,-157,-122,-86,-2,38,67,104,104,105,124,133,133,137,94,50,20,-1,-35,-42,-42,-20];

const macdLine = [[0,-44],[2.7,-117],[7.2,-177],[11.1,-145],[17,-85],[22.8,-137],[27.4,-270],[31.9,-197],[36.5,-197],[39.7,-97],[44.9,4],[48.8,52],[52,165],[55.3,205],[59.2,165],[63.8,141],[70.9,177],[77.4,165],[82,205],[91.7,189],[99.5,125],[108.6,40],[115.8,77],[120.3,36],[125.5,48],[129.4,0],[138.5,105],[142.4,153],[146.3,153],[153.5,226],[156.8,197],[164.6,177],[168.4,234],[173.6,197],[178.8,85],[184.7,-77],[189.2,-16],[195.5,125],[197.5,157],[199.4,125],[202.7,16],[208.5,52],[211.8,44],[215,125],[220.9,197],[224.8,234],[230,258],[232.6,226],[235.2,137],[239.7,161],[247.5,153],[251.4,64],[255.3,-36],[259.2,-36],[263.1,-64],[267.7,-36],[271.3,-129],[274.8,-77],[278.7,64],[281.3,306],[286.5,488],[289.8,617],[295,629],[299.5,802],[302.8,842],[306,689],[308.6,649],[311.2,750],[314.5,758],[316.4,870],[321,548],[323,556],[324,617],[326.2,576],[327.9,677],[332,508],[334,467],[338.5,105],[343,-16],[347,-258],[350.2,-218],[354.1,-451],[356.7,-451],[360.6,-197],[363.9,-97],[366.9,16],[370.4,-97],[373.4,-157],[375,-128.5]];
const macdSignal = [[0,-8],[4.6,-97],[10.5,-145],[16.3,-117],[22.8,-117],[29.3,-210],[36.5,-197],[43.6,-77],[50.1,4],[56.6,153],[64.4,137],[73.5,165],[82.6,193],[94.3,185],[103.4,137],[111.2,56],[121.6,52],[129.4,24],[138.5,85],[145,145],[153.5,205],[163.2,185],[171,218],[178.8,137],[186.6,-8],[195.5,64],[203.3,64],[211.1,52],[218.9,165],[230.6,234],[239.7,165],[248.8,145],[256.6,24],[263.1,-36],[270.9,-64],[276.1,-64],[281.3,105],[289.1,459],[296.9,589],[304.1,762],[309.9,717],[317.1,790],[323,649],[329.4,629],[334.6,528],[339.8,266],[346.3,-16],[351.5,-258],[357.4,-359],[363.2,-218],[367.1,-89],[370.4,-81],[375,-108.2]];

const rsi14ArrowA = [[85.2,75.5],[107.7,68]];
const rsi14ArrowB = [[288.5,85.1],[321,79.4]];
const rsi5ArrowA = [[86.5,85.3],[99.5,66]];
const rsi5ArrowB = [[213.3,85],[233.2,81]];
const rsi5ArrowC = [[288.5,99],[306,80.7]];
const rsi5ArrowD = [[0,19.3],[11.8,30.9]];
const targetUpArrow = [[330,12000],[330,14550]];
const targetDownArrow = [[342.9,11980],[342.9,9230]];

const priceLabels: [string, number, number][] = [
['14655.29',327.7,14851],['14332.76',334.7,14520],['13998.14',315.7,14168],['12141.54',303,12313],['10564.01',288.8,10750],['10895.75',305.9,10652],['12770.71',366.7,12938],['11960.84',337.8,11737],['11194.60',345.7,10955],['11263.34',371.7,11043],['10445.44',353.8,10203],['8025.65',267.5,8172],['8017.06',256.6,8172],['8498.10',247.6,8680],['8386.98',229.7,8543],['7392.64',167.8,7567],['7490.28',196.6,7645],['7178.35',175.8,7352],['6901.91',150.6,7020],['6403.23',154.6,6161],['6160.04',184.9,5926],['6680.68',201.7,6434],['7926.90',241.6,7674],['7461.74',233.6,7215],['7363.17',255.6,7125],['7548.49',263.6,7313],['7084.13',270.6,6864],['4300.49',7,4051],['4722.48',16,4872],['4265.02',27.7,4403],['3388.62',26,3143],['3661.15',34.7,3427],['4647.32',58.8,4383],['4996.09',51.8,5126],['5820.54',103.9,5985],['5907.96',113.7,6083],['5889.06',124.6,6053],['5418.32',105.6,5184],['5480.05',118.8,5243]];

const TOP = 27, BOTTOM = 1728, LEFT = 30, RIGHT = 1410;
const FONT = '"Liberation Sans", Arial, sans-serif';
const GRID = 'rgba(165,165,235,0.75)';
const MONTH = 'rgb(200,200,242)';
const xy = (p: number[][]) => p.map(([x, y]) => ({ x, y }));

function range(p1: number, v1: number, p2: number, v2: number) {
  const k = (v1 - v2) / (p2 - p1);
  return { max: v1 + (p1 - TOP) * k, min: v1 - (BOTTOM - p1) * k };
}

function yAxis(position: string, r: { min: number; max: number }, list: number[], far: boolean, showGrid: boolean, gridFilter?: number[]) {
  return {
    type: 'linear', position, min: r.min, max: r.max,
    afterBuildTicks(s: any) { s.ticks = list.map((value) => ({ value })); },
    afterFit(s: any) { s.width = 0; },
    border: { display: false, dash: [1, 2] },
    grid: {
      display: showGrid, drawTicks: false, lineWidth: 1,
      color: gridFilter ? (c: any) => (gridFilter.includes(c.tick?.value) ? GRID : 'rgba(0,0,0,0)') : GRID,
    },
    ticks: {
      autoSkip: false, maxRotation: 0, minRotation: 0, padding: 4, color: '#222',
      crossAlign: far ? 'far' : 'near', font: { family: FONT, size: 10.5 },
      callback: (v: number) => String(v),
    },
  };
}

function line(data: number[][], yAxisID: string, color: string, width: number, order: number, extra: any = {}) {
  return { type: 'line', data: xy(data), yAxisID, xAxisID: 'x', borderColor: color, borderWidth: width, pointRadius: 0, tension: 0, fill: false, order, ...extra };
}
function arrow(data: number[][], yAxisID: string, color: string, width: number, radius: number, rotation: number, extra: any = {}) {
  return line(data, yAxisID, color, width, 1, {
    pointRadius: [0, radius], pointRotation: [0, rotation], pointStyle: 'triangle',
    pointBackgroundColor: color, pointBorderColor: color, pointBorderWidth: 0, ...extra,
  });
}
function level(value: number, yAxisID: string, color: string, width: number, dash?: number[]) {
  return line([[0, value], [386.5, value]], yAxisID, color, width, 20, dash ? { borderDash: dash } : {});
}
const GREEN = 'rgb(92,135,86)', BROWN = 'rgb(176,108,92)';
function rsiSet(data: number[][], yAxisID: string) {
  return [
    line(data, yAxisID, 'rgb(20,20,20)', 1.2, 10, { fill: { value: 70, above: GREEN, below: 'rgba(0,0,0,0)' } }),
    line(data, yAxisID, 'rgba(0,0,0,0)', 0, 11, { fill: { value: 30, above: 'rgba(0,0,0,0)', below: BROWN } }),
  ];
}

const logoBars: [number, number, number][] = [[1318, 1008, 1022], [1326, 1003, 1025], [1334, 1006, 1020], [1342, 998, 1024], [1350, 1002, 1018], [1358, 996, 1016]];

const textPlugin = {
  id: 'chartText',
  afterLayout(chart: any) {
    // axes are laid out with no width of their own: give their tick labels room to be drawn
    Object.values(chart.scales).forEach((s: any) => {
      if (s.position === 'right') s.right = 1456;
      if (s.position === 'left') s.left = 0;
      if (s.position === 'bottom') s.bottom = 1742;
    });
  },
  afterDatasetsDraw(chart: any) {
    const c = chart.ctx;
    const { x, yMain } = chart.scales;
    const t = (s: string, px: number, py: number, w: number, font: string, color = '#111', align = 'left') => {
      c.font = font; c.fillStyle = color; c.textAlign = align; c.textBaseline = 'middle';
      c.fillText(s, px, py, w);
    };
    c.save();
    // panel rules
    c.strokeStyle = '#a8a8b8'; c.lineWidth = 1;
    c.setLineDash([1, 1]);
    [27, 272, 395, 517, 1145, 1360, 1482, 1728].forEach((y) => { c.beginPath(); c.moveTo(LEFT, y + 0.5); c.lineTo(RIGHT, y + 0.5); c.stroke(); });
    c.setLineDash([]);
    c.strokeStyle = '#9a9ab8';
    [LEFT, RIGHT].forEach((px) => { c.beginPath(); c.moveTo(px + 0.5, TOP); c.lineTo(px + 0.5, BOTTOM); c.stroke(); });
    // month labels under the price panel
    monthPos.forEach((m, i) => {
      t(monthLabels[i], x.getPixelForValue(m), 1138, 26, `${monthLabels[i] === '2026' ? 'bold ' : ''}10.5px ${FONT}`, '#222', 'center');
    });
    // header
    t('$SOX', 29, 9, 32, `bold 14px ${FONT}`);
    t('Semiconductor Index - Philadelphia', 65, 9, 155, `10.5px ${FONT}`, '#222');
    t('INDX', 225, 9, 22, `10.5px ${FONT}`, '#222');
    t('27-Aug-2026', 29, 21, 56, `10.5px ${FONT}`, '#222');
    t('© StockCharts.com', 1410, 9, 84, `10.5px ${FONT}`, '#555', 'right');
    const hx = (z: number) => 728 + z / 2.154;
    const bold = `bold 11.5px ${FONT}`, reg = `10.5px ${FONT}`, cap = `11px ${FONT}`;
    t('Open', hx(577), 21, 27, bold); t('11870.16', hx(643), 21, 41, reg, '#222');
    t('High', hx(743), 21, 22, bold); t('11910.03', hx(799), 21, 41, reg, '#222');
    t('Low', hx(899), 21, 22, bold); t('11690.19', hx(955), 21, 41, reg, '#222');
    t('Close', hx(1057), 21, 29, bold); t('11882.17', hx(1128), 21, 41, reg, '#222');
    t('Chg', hx(1229), 21, 20, bold); t('+270.93 (+2.33%)', hx(1280), 21, 78, reg, '#222');
    t('▲', hx(1455), 21, 7, `8px ${FONT}`, '#333');
    // panel captions
    t('RSI(14) 48.65', 43, 33, 74, cap);
    t('RSI(5) 55.39', 43, 278, 67, cap);
    t('RSI(2) 86.18', 43, 402, 67, cap);
    t('$SOX (Daily) 11882.17', 43, 524, 119, cap);
    t('MA(50) 12384.77', 42, 534, 68, `10.5px ${FONT}`, '#1a1a8c');
    t('MA(100) 11846.66', 42, 545, 72, `10.5px ${FONT}`, '#e01818');
    t('MA(200) 9708.15', 42, 555, 68, `10.5px ${FONT}`, '#111');
    t('BB(20,2.0) 11219.93 - 11954.83 - 12689.72', 42, 565, 170, `10.5px ${FONT}`, '#111');
    t('BB(20,3.0) 10852.48 - 11954.83 - 13057.17', 42, 575.5, 170, `10.5px ${FONT}`, '#e01818');
    t('EEM 67.61', 42, 585, 42, `10.5px ${FONT}`, '#9a94c4');
    t('Volume undef', 43, 1151, 72, cap, '#222');
    t('MACD(12,26,9) -128.504', 43, 1367, 130, `11.5px ${FONT}`);
    t(', -108.248', 173, 1367, 54, `11.5px ${FONT}`, '#e01818');
    t(', -20.256', 227.5, 1367, 48, `11.5px ${FONT}`, '#2f8be6');
    t('MACD(12,26,9) Hist -20.256', 43, 1489, 146, `11.5px ${FONT}`);
    // caption icons
    const swatch = (y: number, col: string) => { c.fillStyle = col; c.fillRect(32, y, 8, 2); };
    swatch(533, '#1a1a8c'); swatch(544, '#e01818'); swatch(554, '#111'); swatch(564, '#111'); swatch(574, '#e01818'); swatch(1366, '#111');
    [33, 278, 402].forEach((y) => { c.fillStyle = GREEN; c.beginPath(); c.moveTo(32, y + 4); c.lineTo(36, y - 4); c.lineTo(40, y + 4); c.fill(); });
    c.fillStyle = '#c8c8ea'; c.beginPath(); c.moveTo(32, 589); c.lineTo(36, 581); c.lineTo(40, 589); c.fill();
    c.fillStyle = '#333'; [32, 35, 38].forEach((px, i) => { c.fillRect(px, 1147 + (2 - i) * 2, 2, 8 - (2 - i) * 2); c.fillStyle = '#3a3ab0'; c.fillRect(px, 1485 + i, 2, 8 - i); c.fillStyle = '#333'; });
    c.fillStyle = '#222'; c.fillRect(33, 520, 2, 7); c.fillRect(37, 520, 2, 7);
    // fib labels
    const gray = `10.5px ${FONT}`;
    t('0.0%: 14676.09', 1447, 529, 70, gray, '#8a8a8a', 'right');
    t('38.2%: 10358.04', 1447, 749, 77, gray, '#8a8a8a', 'right');
    t('50.0%: 9031.02', 1447, 817, 70, gray, '#8a8a8a', 'right');
    t('61.8%: 7703.89', 1447, 885, 70, gray, '#8a8a8a', 'right');
    t('100.0%: 3386.04', 1447, 1106.5, 76, gray, '#8a8a8a', 'right');
    // price labels
    priceLabels.forEach(([s, i, p]) => {
      const px = x.getPixelForValue(i), py = yMain.getPixelForValue(p);
      const w = s.length * 4.4;
      c.fillStyle = 'rgba(255,255,255,0.72)'; c.fillRect(px - w / 2 - 1, py - 5, w + 2, 10);
      t(s, px, py, w, `10px ${FONT}`, '#111', 'center');
    });
    // call-out boxes
    const box = (x0: number, y0: number, x1: number, y1: number) => {
      c.fillStyle = 'rgba(120,120,120,0.35)'; c.fillRect(x0 + 2, y0 + 2, x1 - x0, y1 - y0);
      c.fillStyle = '#fff'; c.fillRect(x0, y0, x1 - x0, y1 - y0);
      c.strokeStyle = '#777'; c.lineWidth = 1; c.strokeRect(x0 + 0.5, y0 + 0.5, x1 - x0, y1 - y0);
    };
    box(928, 44, 1393, 64);
    t('THE RSI 14 SELL SIGNAL HAS REACHED THE POSSIBLE NEAR MISS TARGET', 929, 53.5, 452, `bold 14px ${FONT}`);
    box(1216, 284, 1391, 304);
    t('NO CURRENT DIVERGENCE', 1219, 293, 159, `13px ${FONT}`);
    box(1091, 761, 1244, 810);
    const dv = 'bold 12px "DejaVu Sans", Verdana, sans-serif';
    t('An H&S has broken', 1093, 770, 113, dv); t('down with a target in', 1093, 784.5, 125, dv); t('the 9150 area', 1093, 799, 78, dv);
    // signature
    t('CHARTING THE MARKETS AT', 1017, 1002, 260, '21px "Liberation Serif", serif', '#222');
    c.letterSpacing = '2px';
    t('CTMCRYPTO.SUBSTACK.COM', 1017, 1019, 263, '16px "Liberation Serif", serif', '#222');
    c.letterSpacing = '6px';
    t('THROUGH A GLASS DARKLY', 1017, 1034, 256, 'italic 12px "Liberation Serif", serif', '#222');
    c.letterSpacing = '0px';
    c.strokeStyle = '#17408b'; c.lineWidth = 3;
    c.beginPath(); c.ellipse(1335, 1013, 33, 22, 0, 0.25 * Math.PI, 1.1 * Math.PI); c.stroke();
    c.lineWidth = 1.5; c.beginPath(); c.ellipse(1335, 1013, 30, 22, 0, 1.2 * Math.PI, 1.85 * Math.PI); c.stroke();
    logoBars.forEach(([px, a, b]) => { c.fillStyle = '#17408b'; c.fillRect(px, a, 4, b - a); c.fillRect(px + 1.5, a - 3, 1, b - a + 6); });
    c.fillStyle = '#1f5fae'; c.beginPath(); c.moveTo(1374, 998); c.lineTo(1361, 1005); c.lineTo(1366, 1010); c.lineTo(1345, 1030); c.lineTo(1369, 1015); c.lineTo(1373, 1018); c.fill();
    c.restore();
  },
};

export default function App() {
  const ref = useRef<HTMLCanvasElement>(null);
  useEffect(() => {
    const wicks = candles.map(([i, , h, l]) => ({ x: i, y: [l, h] }));
    const bodies = candles.map(([i, o, , , c]) => ({ x: i, y: [Math.min(o, c), Math.max(o, c)] }));
    const isRed = (s: string) => s === 'r' || s === 'R';
    const hist = histVals.map((y, i) => ({ x: i + 1, y }));
    const histBars = (yAxisID: string, order: number) => ({
      type: 'bar', data: hist, yAxisID, xAxisID: 'x', grouped: false, barThickness: 3.6, base: 0,
      backgroundColor: 'rgb(64,160,236)', borderColor: 'rgba(20,80,130,0.9)', borderWidth: 0.7, borderSkipped: false, order,
    });
    const datasets: any[] = [
      level(70, 'yRsi14', '#9a9a86', 3), level(30, 'yRsi14', '#9a9a86', 3), level(50, 'yRsi14', '#555548', 1.3, [9, 3, 2, 3]),
      ...rsiSet(rsi14, 'yRsi14'),
      level(70, 'yRsi5', '#77775e', 2), level(30, 'yRsi5', '#8f8f7c', 2.2), level(50, 'yRsi5', '#555548', 1.3, [9, 3, 2, 3]),
      ...rsiSet(rsi5, 'yRsi5'),
      level(70, 'yRsi2', '#77775e', 2), level(30, 'yRsi2', '#77775e', 2), level(50, 'yRsi2', '#555548', 1.3, [9, 3, 2, 3]),
      ...rsiSet(rsi2, 'yRsi2'),
      arrow(rsi14ArrowA, 'yRsi14', '#ee2020', 1.5, 7, 107, { borderDash: [2, 3] }),
      arrow(rsi14ArrowB, 'yRsi14', '#ee1414', 2, 8, 96),
      arrow(rsi5ArrowA, 'yRsi5', '#ee1414', 1.5, 7, 115),
      arrow(rsi5ArrowB, 'yRsi5', '#ee1414', 2, 7, 93),
      arrow(rsi5ArrowC, 'yRsi5', '#ee1414', 1.5, 7, 107),
      arrow(rsi5ArrowD, 'yRsi5', '#1a2ce8', 1.8, 7, 74),
      // price panel
      line(eem, 'yEem', 'rgb(200,216,246)', 1, 60, { fill: { value: 37.05, above: 'rgba(185,210,250,0.42)', below: 'rgba(0,0,0,0)' } }),
      line([[fibStart, fibLevels[0]], [fibEnd, fibLevels[0]]], 'yMain', '#222', 1, 45),
      line([[fibStart, fibLevels[1]], [fibEnd, fibLevels[1]]], 'yMain', '#444', 2, 45),
      line([[fibStart, fibLevels[2]], [fibEnd, fibLevels[2]]], 'yMain', '#444', 2, 45),
      line([[fibStart, fibLevels[3]], [fibEnd, fibLevels[3]]], 'yMain', '#444', 2, 45),
      line([[fibStart, fibLevels[4]], [fibEnd, fibLevels[4]]], 'yMain', '#222', 1, 45),
      line(bb3Upper, 'yMain', '#d42020', 2, 35, { borderDash: [2, 3] }),
      line(bb3Lower, 'yMain', '#d42020', 2, 35, { borderDash: [2, 3] }),
      line(bbMiddle, 'yMain', '#d42020', 2, 35, { borderDash: [2, 3] }),
      line(bb2Upper, 'yMain', '#111', 2, 34, { borderDash: [2, 3] }),
      line(bb2Lower, 'yMain', '#111', 2, 34, { borderDash: [2, 3] }),
      line(ma200, 'yMain', '#111', 2.5, 30),
      line(ma100, 'yMain', '#d41c1c', 2.2, 29),
      line(ma50, 'yMain', '#14148c', 2.2, 28),
      line(channelUpper, 'yMain', '#1414e6', 2, 8),
      line(channelLower, 'yMain', '#1414e6', 2, 8),
      line(necklineHS, 'yMain', '#111', 2, 8, { borderDash: [6, 3] }),
      line(resistance, 'yMain', '#111', 1, 8),
      {
        type: 'bar', data: wicks, yAxisID: 'yMain', xAxisID: 'x', grouped: false, barThickness: 1,
        backgroundColor: candles.map((c) => (isRed(c[5]) ? '#e01414' : '#111')), order: 13,
      },
      {
        type: 'bar', data: bodies, yAxisID: 'yMain', xAxisID: 'x', grouped: false, barThickness: 3.2, borderWidth: 1, borderSkipped: false,
        backgroundColor: candles.map((c) => (c[5] === 'r' ? '#e01414' : c[5] === 'k' ? '#111' : '#fff')),
        borderColor: candles.map((c) => (isRed(c[5]) ? '#e01414' : '#111')), order: 12,
      },
      arrow(targetUpArrow, 'yMain', '#444', 2, 7, 0, { pointBackgroundColor: '#111', pointBorderColor: '#111' }),
      arrow(targetDownArrow, 'yMain', '#111', 1.3, 7, 180),
      // MACD
      histBars('yMacd', 30),
      line(macdSignal, 'yMacd', '#ee1414', 1.3, 6),
      line(macdLine, 'yMacd', '#111', 1.7, 5),
      histBars('yHist', 30),
    ];
    const chart = new Chart(ref.current as HTMLCanvasElement, {
      type: 'line',
      data: { datasets },
      plugins: [textPlugin],
      options: {
        animation: false, responsive: false, devicePixelRatio: 1,
        parsing: undefined,
        layout: { padding: { left: LEFT, right: 1456 - RIGHT, top: TOP, bottom: 1742 - BOTTOM } },
        plugins: { legend: { display: false }, title: { display: false }, tooltip: { enabled: false }, filler: { propagate: false } },
        scales: {
          x: {
            type: 'linear', position: 'bottom', min: 0, max: 386.5, offset: false,
            afterBuildTicks(s: any) { s.ticks = monthPos.map((value) => ({ value })); },
            afterFit(s: any) { s.height = 0; },
            border: { display: false },
            grid: { color: MONTH, lineWidth: 1.4, drawTicks: false, offset: false },
            ticks: {
              autoSkip: false, maxRotation: 0, minRotation: 0, padding: 1, color: '#222',
              font: (c: any) => ({ family: FONT, size: 10.5, weight: monthLabels[c.index] === '2026' ? 'bold' : 'normal' }),
              callback: (_v: number, i: number) => monthLabels[i],
            },
          },
          xw: {
            type: 'linear', axis: 'x', position: 'bottom', min: 0, max: 386.5, offset: false,
            afterBuildTicks(s: any) { s.ticks = midMonthPos.map((value) => ({ value })); },
            afterFit(s: any) { s.height = 0; },
            border: { display: false, dash: [2, 2] },
            grid: { color: GRID, lineWidth: 1, drawTicks: false, offset: false },
            ticks: { display: false },
          },
          yRsi14: yAxis('right', range(103, 70, 196, 30), rsiTicks, false, true),
          yRsi5: yAxis('right', range(312.3, 70, 356, 30), rsiTicks, false, true),
          yRsi2: yAxis('right', range(434.7, 70, 478.7, 30), rsiTicks, false, true),
          yMain: yAxis('right', range(543, 14500, 1119, 3250), priceTicks, true, false),
          yEem: yAxis('left', range(528, 71, 1114, 38), eemTicks, false, true),
          yMacd: yAxis('right', range(1372, 800, 1471, -400), macdTicks, true, true),
          yHist: yAxis('right', range(1489.3, 175, 1715.7, -225), histTicks, true, true, histGridValues),
        },
      } as any,
    } as any);
    return () => chart.destroy();
  }, []);
  return (
    <div style={{ position: 'absolute', left: 0, top: 0, width: 1456, height: 1742, background: '#fff' }}>
      <canvas ref={ref} width={1456} height={1742} style={{ display: 'block' }} />
    </div>
  );
}
